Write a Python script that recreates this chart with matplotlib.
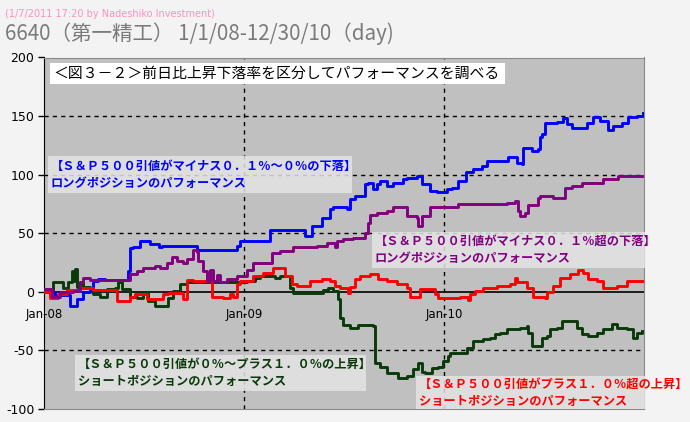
import numpy as np
import matplotlib
matplotlib.use("Agg")
import matplotlib.pyplot as plt
from matplotlib.patches import Rectangle

plt.rcParams['font.family'] = ['Noto Sans CJK JP', 'DejaVu Sans']

# time in fractional years
blue_t = [2008.005, 2008.055, 2008.13, 2008.165, 2008.195, 2008.23, 2008.245, 2008.27, 2008.305,
          2008.415, 2008.42, 2008.43, 2008.445, 2008.48, 2008.53, 2008.575, 2008.59, 2008.765,
          2008.965, 2008.98, 2009.13, 2009.305, 2009.34, 2009.39, 2009.43, 2009.445, 2009.515,
          2009.53, 2009.555, 2009.605, 2009.62, 2009.645, 2009.665, 2009.68, 2009.715, 2009.745,
          2009.795, 2009.815, 2009.865, 2009.89, 2009.93, 2009.965, 2010.015, 2010.04, 2010.07,
          2010.11, 2010.145, 2010.19, 2010.215, 2010.32, 2010.365, 2010.39, 2010.395, 2010.44,
          2010.47, 2010.48, 2010.49, 2010.505, 2010.565, 2010.595, 2010.615, 2010.64, 2010.705,
          2010.715, 2010.745, 2010.78, 2010.82, 2010.845, 2010.89, 2010.92, 2010.965, 2010.995]
blue_v = [0, -3, -12, -6, 0, 3, 9, 11, 10,
          10, 18, 37, 38, 43, 41, 38, 39, 36,
          39, 43, 53, 48, 56, 63, 71, 72, 71,
          79, 82, 92, 93, 88, 92, 95, 90, 93,
          96, 97.5, 99, 92, 86, 85, 88, 89, 95,
          102, 105, 107.5, 112, 115, 110, 109, 123, 120,
          122, 132, 135, 144, 145, 148, 143, 139.5, 140,
          144.5, 149, 146, 138, 141.5, 144.5, 149, 150, 153]

purple_t = [2008.005, 2008.04, 2008.08, 2008.145, 2008.18, 2008.195, 2008.23, 2008.415, 2008.43,
            2008.465, 2008.495, 2008.555, 2008.58, 2008.615, 2008.64, 2008.665, 2008.695, 2008.715,
            2008.745, 2008.765, 2008.77, 2008.795, 2008.815, 2008.83, 2008.845, 2008.865, 2008.88,
            2008.915, 2008.965, 2009.015, 2009.045, 2009.14, 2009.18, 2009.245, 2009.365, 2009.415,
            2009.455, 2009.465, 2009.495, 2009.545, 2009.605, 2009.62, 2009.63, 2009.665, 2009.715,
            2009.745, 2009.805, 2009.815, 2009.865, 2009.87, 2009.89, 2009.93, 2010.045, 2010.07,
            2010.315, 2010.355, 2010.37, 2010.38, 2010.405, 2010.42, 2010.47, 2010.48, 2010.545,
            2010.605, 2010.64, 2010.69, 2010.795, 2010.87, 2010.995]
purple_v = [2, -4, 0, 1, 8, 12, 10, 10, 15,
            18, 20, 22, 20, 25, 30, 26, 25, 28,
            36, 34, 26, 18, 9, 19, 9, 14, 8,
            11, 13.5, 19, 25, 33, 35, 38, 39, 42,
            38, 43, 45, 46, 50.5, 59, 66, 67.5, 69,
            72, 72.5, 65, 63, 56, 65, 72, 72, 75,
            76, 77.5, 69, 65, 67.5, 74, 80, 82, 80,
            89, 90, 93, 96, 99, 99]

red_t = [2008.005, 2008.03, 2008.07, 2008.115, 2008.18, 2008.245, 2008.355, 2008.365, 2008.43,
         2008.455, 2008.515, 2008.595, 2008.62, 2008.695, 2008.715, 2008.745, 2008.84, 2008.895,
         2008.93, 2008.945, 2008.965, 2008.98, 2009.045, 2009.095, 2009.145, 2009.205, 2009.24,
         2009.265, 2009.33, 2009.39, 2009.43, 2009.455, 2009.48, 2009.52, 2009.53, 2009.555,
         2009.58, 2009.63, 2009.67, 2009.715, 2009.765, 2009.815, 2009.83, 2009.88, 2009.955,
         2009.97, 2010.08, 2010.12, 2010.13, 2010.155, 2010.195, 2010.265, 2010.33, 2010.355,
         2010.365, 2010.415, 2010.445, 2010.505, 2010.515, 2010.545, 2010.58, 2010.63, 2010.67,
         2010.695, 2010.72, 2010.765, 2010.795, 2010.865, 2010.915, 2010.995]
red_v = [0, -5, -2, 1.5, 3, 1.5, 1.5, -8, -4,
         -2, -6, -2, -1, -6, 10, 9, -4, -5,
         -2, -4, 6.5, 9, 13.5, 16, 20.5, 13.5, 6.5,
         5, 9, 11, 9, 5, 3, -1, 4, 11,
         13.5, 15, 11, 9, 7, 3.5, -4, 2, -2,
         -5, -4, -7, -2, 0.5, 3, 5, 6.5, 12,
         8, 3.5, -4, -5, 0, 5, 12, 15, 19,
         16, 11, 9, 3.5, 5, 9, 9]

green_t = [2008.005, 2008.045, 2008.095, 2008.12, 2008.14, 2008.145, 2008.155, 2008.165, 2008.18,
           2008.195, 2008.23, 2008.245, 2008.28, 2008.315, 2008.355, 2008.37, 2008.39, 2008.43,
           2008.465, 2008.495, 2008.52, 2008.555, 2008.605, 2008.62, 2008.645, 2008.68, 2008.715,
           2008.78, 2009.015, 2009.055, 2009.08, 2009.155, 2009.18, 2009.23, 2009.245, 2009.395,
           2009.42, 2009.445, 2009.47, 2009.48, 2009.495, 2009.53, 2009.57, 2009.645, 2009.655,
           2009.68, 2009.715, 2009.77, 2009.815, 2009.845, 2009.87, 2009.89, 2009.905, 2009.94,
           2009.97, 2009.995, 2010.02, 2010.03, 2010.115, 2010.145, 2010.195, 2010.23, 2010.255,
           2010.28, 2010.315, 2010.38, 2010.415, 2010.42, 2010.44, 2010.48, 2010.49, 2010.515,
           2010.53, 2010.565, 2010.59, 2010.645, 2010.665, 2010.69, 2010.72, 2010.765, 2010.795,
           2010.84, 2010.865, 2010.915, 2010.945, 2010.965, 2010.99]
green_v = [0, 8, 3.5, 8, 18, 9, 19.5, 4, 8,
           4, 3.5, -2, -4, 2, 3.5, 8, 2, -4,
           -5, -1, -8, -12, -12, -5, 0.5, 6.5, 8,
           8.5, 9, 12, 13.5, 12, 13.5, 3.5, -1, 1.5,
           3.5, 0.5, -6, -22, -28, -31, -28, -29, -61,
           -64, -69, -73.5, -72, -66, -61, -68, -69, -65,
           -64, -59, -55, -52, -48, -42, -40.5, -39, -36,
           -35, -32, -31, -29, -35, -46, -46, -39, -38,
           -32, -31, -25, -25, -31, -36, -38, -35, -32,
           -27.5, -31, -32, -39, -35, -33.5]

x_ticks = [2008, 2009, 2010]
x_labels = ["Jan-08", "Jan-09", "Jan-10"]
y_ticks = [-100, -50, 0, 50, 100, 150, 200]

W, H = 690, 422
fig = plt.figure(figsize=(6.9, 4.22), dpi=100)
fig.patch.set_facecolor("#f3f3f3")
ax = fig.add_axes([44 / W, 1 - 409 / H, 600 / W, (409 - 57.5) / H])
ax.set_facecolor("#c0c0c0")
ax.set_xlim(2008, 2011)
ax.set_ylim(-100, 200)

# grid
for y in [-50, 50, 100, 150]:
    ax.axhline(y, color="black", lw=1, ls=(0, (3, 3)), zorder=1)
for t in x_ticks[1:]:
    ax.axvline(t, color="black", lw=1, ls=(0, (3, 3)), zorder=1)
ax.axhline(0, color="black", lw=1.2, zorder=1)

lw = 2.1
ax.plot(green_t, green_v, color="#0a3a0a", lw=lw, drawstyle="steps-post", zorder=3)
ax.plot(red_t, red_v, color="#ff0000", lw=lw, drawstyle="steps-post", zorder=4)
ax.plot(blue_t, blue_v, color="#0000ff", lw=lw, drawstyle="steps-post", zorder=3)
ax.plot(purple_t, purple_v, color="#800080", lw=lw, drawstyle="steps-post", zorder=5)

ax.set_yticks(y_ticks)
ax.set_yticklabels([str(v) for v in y_ticks], fontsize=9, family="DejaVu Sans")
ax.tick_params(axis="y", length=4, width=1, pad=3)
ax.set_xticks([])
for t, lab in zip(x_ticks, x_labels):
    ax.text(t, -19, lab, ha="center", va="center", fontsize=8.5, family="DejaVu Sans",
            color="black", zorder=6)

for s in ["top", "right", "bottom"]:
    ax.spines[s].set_color("#8a8a8a")
ax.spines["left"].set_color("black")

# header texts
fig.text(5 / W, 1 - 14 / H, "(1/7/2011 17:20 by Nadeshiko Investment)", fontsize=7,
         color="#ff90c0", va="center", ha="left", family="DejaVu Sans")
fig.text(5 / W, 1 - 34 / H, "6640（第一精工） 1/1/08-12/30/10（day)", fontsize=14.8,
         color="#7a7a7a", va="center", ha="left")


def box(x0, y0, x1, y1, color, alpha):
    fig.patches.append(Rectangle((x0 / W, 1 - y1 / H), (x1 - x0) / W, (y1 - y0) / H,
                                 transform=fig.transFigure, facecolor=color, alpha=alpha,
                                 edgecolor="none", zorder=10))


box(50, 63, 505, 84, "white", 1.0)
fig.text(53 / W, 1 - 74 / H, "＜図３－２＞前日比上昇下落率を区分してパフォーマンスを調べる",
         fontsize=10.7, color="black", va="center", ha="left", zorder=11)

labels = [
    ((48, 156, 352, 193), "#0000ff", "【Ｓ＆Ｐ５００引値がマイナス０．１％～０％の下落】", "ロングポジションのパフォーマンス"),
    ((372, 232, 645, 268), "#800080", "【Ｓ＆Ｐ５００引値がマイナス０．１％超の下落】", "ロングポジションのパフォーマンス"),
    ((75, 355, 366, 391), "#0a3a0a", "【Ｓ＆Ｐ５００引値が０％～プラス１．０％の上昇】", "ショートポジションのパフォーマンス"),
    ((416, 376, 645, 409), "#ff0000", "【Ｓ＆Ｐ５００引値がプラス１．０％超の上昇】", "ショートポジションのパフォーマンス"),
]
for (x0, y0, x1, y1), c, l1, l2 in labels:
    box(x0, y0, x1, y1, "#e4e4e4", 0.85)
    mid = (y0 + y1) / 2
    fig.text((x0 + 3) / W, 1 - (mid - 8.5) / H, l1, fontsize=8.8, fontweight="bold",
             color=c, va="center", ha="left", zorder=11)
    fig.text((x0 + 3) / W, 1 - (mid + 8.5) / H, l2, fontsize=8.8, fontweight="bold",
             color=c, va="center", ha="left", zorder=11)

fig.savefig("out.png", dpi=100, facecolor=fig.get_facecolor())
